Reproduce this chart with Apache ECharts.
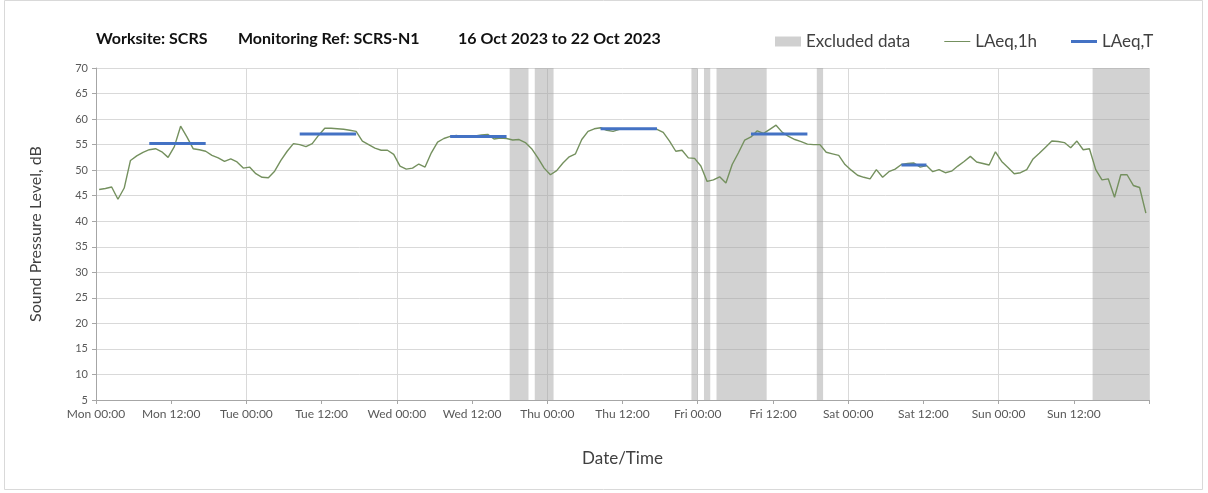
<!DOCTYPE html>
<html>
<head>
<meta charset="utf-8">
<script src="https://cdn.jsdelivr.net/npm/echarts@6/dist/echarts.min.js"></script>
<style>
  html, body { margin: 0; padding: 0; background: #ffffff; }
  #chart { width: 1208px; height: 493px; }
</style>
</head>
<body>
<div id="chart"></div>
<script>
// Hourly LAeq,1h levels (dB), Mon 00:00 .. Sun 23:00, one value per hour
const hourlyLevels = [
  46.2, 46.4, 46.7, 44.3, 46.5, 51.9, 52.8, 53.5, 54.0, 54.2, 53.6, 52.5,
  54.6, 58.6, 56.5, 54.2, 54.0, 53.7, 52.9, 52.4, 51.7, 52.2, 51.6, 50.4,
  50.6, 49.3, 48.6, 48.5, 49.8, 51.9, 53.7, 55.2, 55.0, 54.6, 55.2, 56.8,
  58.2, 58.2, 58.1, 58.0, 57.8, 57.6, 55.7, 55.0, 54.3, 53.9, 53.9, 53.1,
  50.8, 50.2, 50.4, 51.2, 50.6, 53.4, 55.5, 56.2, 56.6, 56.8, 56.5, 56.6,
  56.7, 56.9, 57.0, 56.1, 56.3, 56.2, 55.9, 56.0, 55.4, 54.2, 52.4, 50.4,
  49.1, 49.9, 51.4, 52.6, 53.2, 56.0, 57.6, 58.1, 58.3, 57.8, 57.6, 58.0,
  58.0, 58.1, 58.1, 58.1, 58.0, 58.0, 57.4, 55.7, 53.7, 53.9, 52.4, 52.3,
  50.8, 47.8, 48.1, 48.7, 47.5, 51.1, 53.4, 55.9, 56.5, 57.7, 57.2, 58.0,
  58.8, 57.4, 56.6, 56.0, 55.6, 55.1, 55.0, 55.0, 53.5, 53.2, 52.9, 51.1,
  50.0, 49.0, 48.6, 48.3, 50.1, 48.6, 49.7, 50.2, 51.1, 51.3, 51.4, 50.6,
  50.9, 49.7, 50.1, 49.5, 49.8, 50.8, 51.7, 52.7, 51.6, 51.3, 51.0, 53.6,
  51.7, 50.5, 49.3, 49.5, 50.1, 52.2, 53.3, 54.5, 55.7, 55.6, 55.4, 54.4,
  55.7, 54.0, 54.2, 50.1, 48.1, 48.3, 44.7, 49.1, 49.1, 47.0, 46.6, 41.6
];

// LAeq,T assessment periods (hours from Mon 00:00) and their levels
const periodStart = [8, 32, 56, 80, 104, 128];
const periodEnd   = [18, 42, 66, 90, 114, 133];
const periodLevel = [55.2, 57.1, 56.6, 58.1, 57.1, 51.0];

// Excluded data windows (hours from Mon 00:00)
const excludedStart = [66, 70, 95, 97, 99, 115, 159];
const excludedEnd   = [69, 73, 96, 98, 107, 116, 168];

// Time axis tick labels, every 12 hours
const tickLabels = [
  'Mon 00:00', 'Mon 12:00', 'Tue 00:00', 'Tue 12:00', 'Wed 00:00', 'Wed 12:00',
  'Thu 00:00', 'Thu 12:00', 'Fri 00:00', 'Fri 12:00', 'Sat 00:00', 'Sat 12:00',
  'Sun 00:00', 'Sun 12:00', ''
];

const yMin = 5, yMax = 70;
const FONT = 'Lato, "Open Sans", sans-serif';
const GREEN = '#74905e';
const BLUE = '#4472c4';

// Hourly values plotted at the middle of each hour
const hourlyData = hourlyLevels.map((v, i) => [i + 0.5, v]);

// LAeq,T drawn across the hours of each period, broken between periods
const periodData = [];
periodStart.forEach((s, k) => {
  for (let h = s; h < periodEnd[k]; h++) periodData.push([h + 0.5, periodLevel[k]]);
  periodData.push([periodEnd[k], null]);
});

const excludedData = excludedStart.map((s, k) => [s, excludedEnd[k]]);

const titleStyle = { fontFamily: FONT, fontSize: 16, fontWeight: 'bold', color: '#111111' };

const chart = echarts.init(document.getElementById('chart'), null, { renderer: 'canvas' });

chart.setOption({
  backgroundColor: '#ffffff',
  animation: false,
  textStyle: { fontFamily: FONT },
  title: [
    { text: 'Worksite: SCRS', left: 96, top: 31, padding: 0, textStyle: titleStyle },
    { text: 'Monitoring Ref: SCRS-N1', left: 238, top: 31, padding: 0, textStyle: titleStyle },
    { text: '16 Oct 2023 to 22 Oct 2023', left: 458, top: 31, padding: 0, textStyle: titleStyle }
  ],
  graphic: [
    { type: 'rect', silent: true, z: -10,
      shape: { x: 4.5, y: 0.5, width: 1198, height: 489 },
      style: { fill: 'none', stroke: '#d9d9d9', lineWidth: 1 } }
  ],
  legend: {
    left: 775, top: 33, padding: 0,
    itemWidth: 26, itemHeight: 10, itemGap: 34,
    textStyle: { fontFamily: FONT, fontSize: 17, color: '#404040' },
    data: [
      { name: 'Excluded data', icon: 'rect', itemStyle: { color: '#d0d0d0' } },
      { name: 'LAeq,1h', icon: 'path://M0,0 H26 V1 H0 Z', itemStyle: { color: GREEN } },
      { name: 'LAeq,T', icon: 'path://M0,0 H26 V3 H0 Z', itemStyle: { color: BLUE } }
    ]
  },
  grid: { left: 96, right: 59, top: 68, bottom: 93, containLabel: false },
  xAxis: {
    type: 'value',
    min: 0, max: 168, interval: 12,
    name: 'Date/Time',
    nameLocation: 'middle',
    nameGap: 50,
    nameTextStyle: { fontFamily: FONT, fontSize: 17, color: '#404040' },
    axisLine: { show: true, lineStyle: { color: '#a6a6a6', width: 1 } },
    axisTick: { show: true, inside: false, length: 4, lineStyle: { color: '#a6a6a6' } },
    axisLabel: {
      fontFamily: FONT, fontSize: 12, color: '#595959', margin: 8,
      formatter: v => tickLabels[Math.round(v / 12)] || ''
    },
    splitLine: {
      show: true,
      // day boundaries only: every other 12-hour line is drawn
      lineStyle: { color: ['#d9d9d9', 'rgba(0,0,0,0)'], width: 1 }
    }
  },
  yAxis: {
    type: 'value',
    min: yMin, max: yMax, interval: 5,
    name: 'Sound Pressure Level, dB',
    nameLocation: 'middle',
    nameGap: 52,
    nameTextStyle: { fontFamily: FONT, fontSize: 16, color: '#404040' },
    axisLine: { show: true, lineStyle: { color: '#a6a6a6', width: 1 } },
    axisTick: { show: true, inside: false, length: 4, lineStyle: { color: '#a6a6a6' } },
    axisLabel: { fontFamily: FONT, fontSize: 11, color: '#595959', margin: 8 },
    splitLine: { show: true, lineStyle: { color: '#d9d9d9', width: 1 } }
  },
  series: [
    {
      name: 'Excluded data',
      type: 'custom',
      z: 1,
      encode: { x: [0, 1] },
      itemStyle: { color: '#d0d0d0' },
      renderItem: (params, api) => {
        const p0 = api.coord([api.value(0), yMax]);
        const p1 = api.coord([api.value(1), yMin]);
        return {
          type: 'rect',
          shape: { x: p0[0], y: p0[1], width: p1[0] - p0[0], height: p1[1] - p0[1] },
          style: { fill: 'rgba(160,160,160,0.48)' }
        };
      },
      data: excludedData
    },
    {
      name: 'LAeq,1h',
      type: 'line',
      z: 3,
      symbol: 'none',
      lineStyle: { color: GREEN, width: 1.4 },
      itemStyle: { color: GREEN },
      data: hourlyData
    },
    {
      name: 'LAeq,T',
      type: 'line',
      z: 4,
      symbol: 'none',
      connectNulls: false,
      lineStyle: { color: BLUE, width: 3 },
      itemStyle: { color: BLUE },
      data: periodData
    }
  ]
});
</script>
</body>
</html>
